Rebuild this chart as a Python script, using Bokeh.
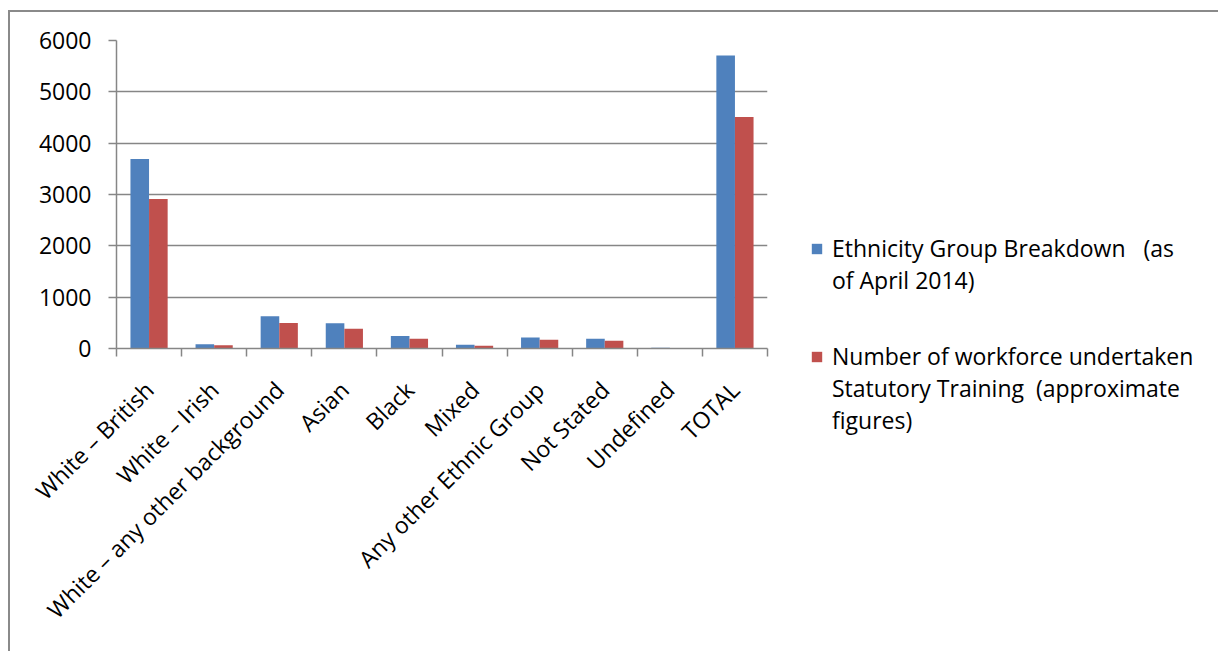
import numpy as np
from bokeh.plotting import figure
from bokeh.layouts import row
from bokeh.models import ColumnDataSource, Range1d, FixedTicker, Legend, LegendItem
from bokeh.transform import dodge
from bokeh.embed import file_html
from bokeh.resources import INLINE

# Workforce figures by ethnic group
categories = [
    "White – British",
    "White – Irish",
    "White – any other background",
    "Asian",
    "Black",
    "Mixed",
    "Any other Ethnic Group",
    "Not Stated",
    "Undefined",
    "TOTAL",
]
ethnicity_breakdown = [3690, 85, 630, 490, 245, 75, 215, 190, 15, 5710]
statutory_training = [2910, 65, 495, 385, 190, 55, 170, 150, 8, 4510]
y_ticks = [0, 1000, 2000, 3000, 4000, 5000, 6000]

NBSP = "\u00a0"
legend_lines_blue = ["Ethnicity Group Breakdown" + NBSP * 3 + "(as", "of April 2014)"]
legend_lines_red = [
    "Number of workforce undertaken",
    "Statutory Training" + NBSP * 2 + "(approximate",
    "figures)",
]

FONT = "Open Sans"
FONT_SIZE = "23px"
GRAY = "#868686"
BLUE = "#4F81BD"
RED = "#C0504D"

n = len(categories)
centers = [i + 0.5 for i in range(n)]
bar_w = 1 / 3.5  # two bars plus a 150% gap per category

source = ColumnDataSource(dict(
    x=centers,
    blue=ethnicity_breakdown,
    red=statutory_training,
))

# canvas origin sits at (10, 12) in the page: 8/10 px margin plus a 2 px border
ORIGIN_X, ORIGIN_Y = 10, 12
H = 641
W_MAIN = 780
FRAME_W, FRAME_H = 651, 308
LEFT, TOP = 106, 28

p = figure(
    width=W_MAIN, height=H,
    x_range=Range1d(0, n), y_range=Range1d(0, 6000),
    output_backend="svg", toolbar_location=None,
    min_border_left=LEFT, min_border_top=TOP,
    min_border_right=W_MAIN - LEFT - FRAME_W,
    min_border_bottom=H - TOP - FRAME_H,
)
p.outline_line_color = None
p.background_fill_color = "white"
p.border_fill_color = "white"

blue_r = p.vbar(x=dodge("x", -bar_w / 2, range=p.x_range), top="blue", width=bar_w,
                source=source, fill_color=BLUE, line_color=None)
red_r = p.vbar(x=dodge("x", bar_w / 2, range=p.x_range), top="red", width=bar_w,
               source=source, fill_color=RED, line_color=None)

# y axis and gridlines
p.yaxis.ticker = FixedTicker(ticks=y_ticks)
p.yaxis.axis_line_color = GRAY
p.yaxis.axis_line_width = 1.5
p.yaxis.major_tick_line_color = GRAY
p.yaxis.major_tick_line_width = 1.5
p.yaxis.major_tick_out = 8
p.yaxis.major_tick_in = 0
p.yaxis.minor_tick_line_color = None
p.yaxis.major_label_standoff = 17
p.yaxis.major_label_text_font = FONT
p.yaxis.major_label_text_font_size = FONT_SIZE
p.yaxis.major_label_text_color = "black"

p.ygrid.ticker = FixedTicker(ticks=y_ticks)
p.ygrid.grid_line_color = GRAY
p.ygrid.grid_line_width = 1.5
p.xgrid.visible = False

# x axis: labels at category centres, tick marks at category boundaries
p.xaxis.ticker = FixedTicker(ticks=centers, minor_ticks=list(range(n + 1)))
p.xaxis.major_label_overrides = {c: name for c, name in zip(centers, categories)}
p.xaxis.major_label_orientation = np.pi / 4
p.xaxis.major_tick_line_color = None
p.xaxis.minor_tick_line_color = GRAY
p.xaxis.minor_tick_line_width = 1.5
p.xaxis.minor_tick_out = 8
p.xaxis.minor_tick_in = 0
p.xaxis.axis_line_color = GRAY
p.xaxis.axis_line_width = 1.5
p.xaxis.major_label_standoff = 29
p.xaxis.major_label_text_font = FONT
p.xaxis.major_label_text_font_size = FONT_SIZE
p.xaxis.major_label_text_color = "black"

# legend panel to the right of the plot; its ranges keep the series
# renderers out of view so only their legend swatches show
W_LEG = 1218 - ORIGIN_X - W_MAIN
q = figure(
    width=W_LEG, height=H,
    x_range=Range1d(-3, -2), y_range=Range1d(0, 1),
    output_backend="svg", toolbar_location=None,
    x_axis_location=None, y_axis_location=None,
    min_border=0,
)
q.outline_line_color = None
q.grid.visible = False
q_blue = q.vbar(x="x", top="blue", width=bar_w, source=source, fill_color=BLUE, line_color=None)
q_red = q.vbar(x="x", top="red", width=bar_w, source=source, fill_color=RED, line_color=None)
q_blank = q.vbar(x=[], top=[], width=0.1, fill_alpha=0, line_alpha=0)

# keep each plot's frame independent of its neighbour
independent = False
for fig in (p, q):
    if "frame_align" in fig.properties():
        fig.frame_align = False
        independent = True


def make_legend(lines, renderer, loc):
    items = [LegendItem(label=lines[0], renderers=[renderer])]
    items += [LegendItem(label=t, renderers=[q_blank]) for t in lines[1:]]
    return Legend(
        items=items, location=loc, orientation="vertical",
        padding=0, margin=0, spacing=0,
        glyph_width=13, glyph_height=13, label_height=32, label_standoff=9,
        label_text_font=FONT, label_text_font_size=FONT_SIZE,
        label_text_color="black",
        border_line_color=None, background_fill_alpha=0,
    )


q_left = ORIGIN_X + W_MAIN
ref_bottom = ORIGIN_Y + H if independent else 349
q.add_layout(make_legend(legend_lines_blue, q_blue, (810 - q_left, ref_bottom - (232 + 64))))
q.add_layout(make_legend(legend_lines_red, q_red, (810 - q_left, ref_bottom - (340 + 96))))

layout = row(p, q, spacing=0)
layout.styles = {
    "margin-left": "8px",
    "margin-top": "10px",
    "border-left": "2px solid #8a8a8a",
    "border-top": "2px solid #8a8a8a",
}

open("out.html", "w").write(file_html(layout, INLINE))
